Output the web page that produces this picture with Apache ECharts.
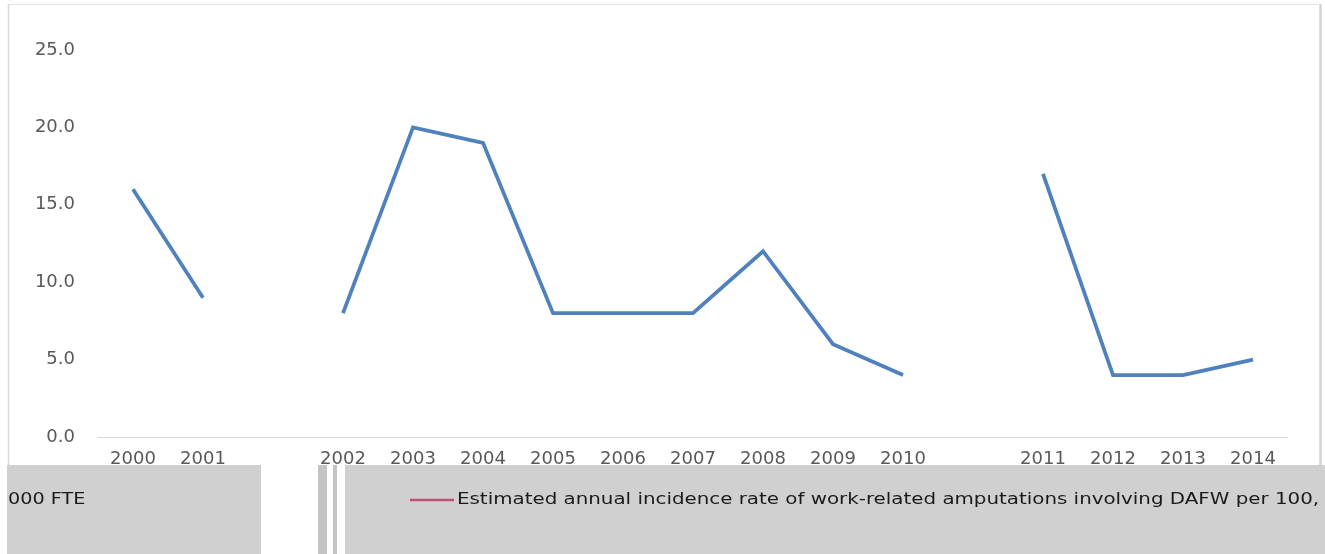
<!DOCTYPE html>
<html>
<head>
<meta charset="utf-8">
<script src="https://cdn.jsdelivr.net/npm/echarts@6/dist/echarts.min.js"></script>
<style>
html,body{margin:0;padding:0;background:#fff;}
#chart{width:1325px;height:554px;}
</style>
</head>
<body>
<div id="chart"></div>
<script>
var categories = ['2000','2001',' ','2002','2003','2004','2005','2006','2007','2008','2009','2010','  ','2011','2012','2013','2014'];
var rateValues = [16, 9, null, 8, 20, 19, 8, 8, 8, 12, 6, 4, null, 17, 4, 4, 5];
var yTicks = [0, 5, 10, 15, 20, 25];
var seriesName = 'Estimated annual incidence rate of work-related amputations involving DAFW per 100,000 FTE';
var legendShown = 'Estimated annual incidence rate of work-related amputations involving DAFW per 100,';
var legendWrapped = '000 FTE';

var chart = echarts.init(document.getElementById('chart'));
var labelColor = '#595959';
chart.setOption({
  animation: false,
  backgroundColor: '#ffffff',
  grid: { left: 98, right: 37, top: 50, bottom: 117, containLabel: false },
  xAxis: {
    type: 'category',
    data: categories,
    boundaryGap: true,
    axisLine: { show: true, lineStyle: { color: '#d9d9d9', width: 1 } },
    axisTick: { show: false },
    axisLabel: { color: labelColor, fontFamily: 'DejaVu Sans', fontSize: 18, margin: 13, interval: 0 }
  },
  yAxis: {
    type: 'value',
    min: yTicks[0],
    max: yTicks[yTicks.length - 1],
    interval: yTicks[1] - yTicks[0],
    axisLine: { show: false },
    axisTick: { show: false },
    splitLine: { show: false },
    axisLabel: {
      color: labelColor, fontFamily: 'DejaVu Sans', fontSize: 18, margin: 23,
      formatter: function (v) { return v.toFixed(1); }
    }
  },
  series: [{
    name: seriesName,
    type: 'line',
    data: rateValues,
    connectNulls: false,
    symbol: 'none',
    lineStyle: { color: '#4f81bd', width: 3.75, join: 'miter' },
    itemStyle: { color: '#4f81bd' },
    z: 3
  }],
  graphic: [
    { type: 'line', shape: { x1: 8, y1: 4.5, x2: 1318, y2: 4.5 }, style: { stroke: '#e6e6e6', lineWidth: 1 }, z: 1 },
    { type: 'line', shape: { x1: 8.5, y1: 4, x2: 8.5, y2: 465 }, style: { stroke: '#d9d9d9', lineWidth: 1.5 }, z: 1 },
    { type: 'line', shape: { x1: 1320.5, y1: 4, x2: 1320.5, y2: 465 }, style: { stroke: '#d4d4d4', lineWidth: 2.5 }, z: 1 },
    { type: 'rect', shape: { x: 7, y: 465, width: 254, height: 89 }, style: { fill: '#d0d0d0' }, z: 100 },
    { type: 'rect', shape: { x: 318, y: 465, width: 9, height: 89 }, style: { fill: '#c4c4c4' }, z: 100 },
    { type: 'rect', shape: { x: 333, y: 465, width: 4, height: 89 }, style: { fill: '#c4c4c4' }, z: 100 },
    { type: 'rect', shape: { x: 345, y: 465, width: 980, height: 89 }, style: { fill: '#d0d0d0' }, z: 100 },
    { type: 'text', x: 8, y: 492, scaleX: 1.2, style: { text: legendWrapped, fill: '#1a1a1a', font: '16px "DejaVu Sans"' }, z: 101 },
    { type: 'line', shape: { x1: 410, y1: 500, x2: 454, y2: 500 }, style: { stroke: '#c0507a', lineWidth: 2.5 }, z: 101 },
    { type: 'text', x: 457, y: 492, scaleX: 1.24, style: { text: legendShown, fill: '#1a1a1a', font: '16px "DejaVu Sans"' }, z: 101 }
  ]
});
</script>
</body>
</html>
